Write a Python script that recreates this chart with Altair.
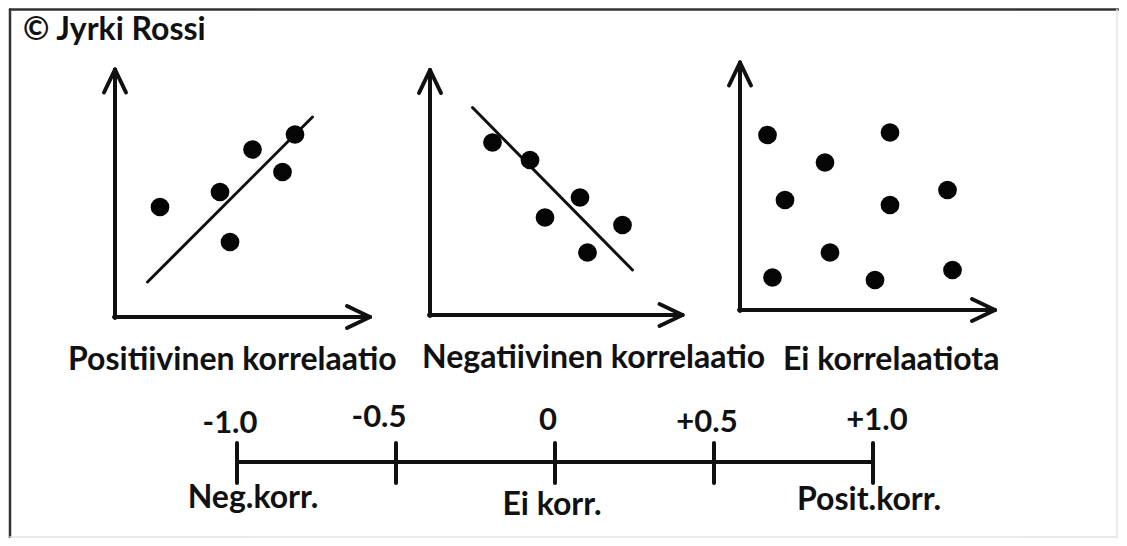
import altair as alt
import pandas as pd

# ---------------- data ----------------
TITLE = "© Jyrki Rossi"
panel_titles = ["Positiivinen korrelaatio", "Negatiivinen korrelaatio", "Ei korrelaatiota"]

# panel-local units (0..10 along each drawn axis)
pos_x = [1.8, 4.2, 4.6, 5.5, 6.7, 7.2]
pos_y = [4.4, 5.0, 3.0, 6.7, 5.8, 7.3]
pos_fit_x = [1.3, 7.9]
pos_fit_y = [1.4, 8.0]

neg_x = [2.5, 4.0, 6.0, 4.6, 7.7, 6.3]
neg_y = [6.9, 6.2, 4.7, 3.9, 3.6, 2.5]
neg_fit_x = [1.7, 8.1]
neg_fit_y = [8.3, 1.8]

none_x = [1.1, 6.0, 3.4, 1.8, 6.0, 8.3, 3.6, 1.3, 5.4, 8.5]
none_y = [7.0, 7.1, 5.9, 4.4, 4.2, 4.8, 2.3, 1.3, 1.2, 1.6]

scale_values = [-1.0, -0.5, 0.0, 0.5, 1.0]
scale_labels = ["-1.0", "-0.5", "0", "+0.5", "+1.0"]
scale_names = ["Neg.korr.", "Ei korr.", "Posit.korr."]
scale_name_values = [-1.0, 0.0, 1.0]

# ---------------- layout ----------------
W, H = 1111, 530
UNIT = 25.0
origins = [(115, 317), (430, 315), (740, 310)]
axis_len = [(10.2, 9.9), (10.1, 9.8), (10.2, 9.9)]
title_pos = [(68, 370), (422, 368), (783, 370)]
ARM_BACK, ARM_HALF = 23, 11
AX_W, FIT_W = 4, 3

NL_LEFT, NL_PX, NL_Y = 237, 318, 462
tick_up, tick_dn = 19, 21
lab_dx = [-7, -17, -7, -7, 4]
lab_base = [433, 427, 430, 432, 430]
name_dx = [16, -3, -4]
name_base = [508, 515, 510]

INK = "#111111"
FONT = "Lato"
FS = 32
FS_NUM = 31

def P(i, lx, ly):
    ox, oy = origins[i]
    return ox + lx * UNIT, oy - ly * UNIT

segs = []
def seg(x, y, x2, y2, w=AX_W, c=INK):
    segs.append(dict(x=x, y=y, x2=x2, y2=y2, w=w, c=c))

# border
seg(10, 9.5, 1118, 9.5, 2.5, "#333333")
seg(10, 9.5, 10, 538, 2.5, "#333333")
seg(1117, 9.5, 1117, 538, 1.5, "#e4e4e4")
seg(10, 537, 1117, 537, 1.5, "#e4e4e4")

for i in range(3):
    ox, oy = origins[i]
    lx, ly = axis_len[i]
    tx, _ = P(i, lx, 0)
    _, ty = P(i, 0, ly)
    seg(ox, oy + 1, ox, ty)
    seg(ox, ty, ox - ARM_HALF, ty + ARM_BACK)
    seg(ox, ty, ox + ARM_HALF, ty + ARM_BACK)
    seg(ox - 1, oy, tx, oy)
    seg(tx, oy, tx - ARM_BACK, oy - ARM_HALF)
    seg(tx, oy, tx - ARM_BACK, oy + ARM_HALF)

for i, (fx, fy) in enumerate([(pos_fit_x, pos_fit_y), (neg_fit_x, neg_fit_y)]):
    a = P(i, fx[0], fy[0]); b = P(i, fx[1], fy[1])
    seg(a[0], a[1], b[0], b[1], FIT_W)

def nl(v):
    return NL_LEFT + (v + 1.0) * NL_PX

seg(nl(-1.0), NL_Y, nl(1.0), NL_Y, AX_W)
for v in scale_values:
    seg(nl(v), NL_Y - tick_up, nl(v), NL_Y + tick_dn, 4)

seg_df = pd.DataFrame(segs)

pts = []
for i, (xs_, ys_) in enumerate([(pos_x, pos_y), (neg_x, neg_y), (none_x, none_y)]):
    for a, b in zip(xs_, ys_):
        px, py = P(i, a, b)
        pts.append(dict(x=px, y=py))
pts_df = pd.DataFrame(pts)

left_txt = [dict(x=23, y=40, t=TITLE)]
for (x, y), t in zip(title_pos, panel_titles):
    left_txt.append(dict(x=x, y=y, t=t))
left_df = pd.DataFrame(left_txt)

num_txt = []
for v, t, dx, yb in zip(scale_values, scale_labels, lab_dx, lab_base):
    num_txt.append(dict(x=nl(v) + dx, y=yb, t=t))
num_df = pd.DataFrame(num_txt)

name_txt = []
for v, t, dx, yb in zip(scale_name_values, scale_names, name_dx, name_base):
    name_txt.append(dict(x=nl(v) + dx, y=yb, t=t))
name_df = pd.DataFrame(name_txt)

xs = alt.Scale(domain=[8, 8 + W], nice=False, zero=False)
ys = alt.Scale(domain=[8, 8 + H], nice=False, zero=False, reverse=True)
X = alt.X("x:Q", scale=xs, axis=None)
Y = alt.Y("y:Q", scale=ys, axis=None)

rules = alt.Chart(seg_df).mark_rule(strokeCap="round").encode(
    x=X, y=Y, x2="x2:Q", y2="y2:Q",
    strokeWidth=alt.StrokeWidth("w:Q", scale=None),
    color=alt.Color("c:N", scale=None),
)
dots = alt.Chart(pts_df).mark_circle(size=350, opacity=1, color="#050505").encode(x=X, y=Y)
t_left = alt.Chart(left_df).mark_text(
    align="left", baseline="alphabetic", font=FONT, fontSize=FS, fontWeight="bold", color=INK
).encode(x=X, y=Y, text="t:N")
t_num = alt.Chart(num_df).mark_text(
    align="center", baseline="alphabetic", font=FONT, fontSize=FS_NUM, fontWeight="bold", color=INK
).encode(x=X, y=Y, text="t:N")
t_name = alt.Chart(name_df).mark_text(
    align="center", baseline="alphabetic", font=FONT, fontSize=FS, fontWeight="bold", color=INK
).encode(x=X, y=Y, text="t:N")

chart = alt.layer(rules, dots, t_left, t_num, t_name).properties(
    width=W, height=H, padding=0, autosize=alt.AutoSizeParams(type="none"),
    background="white",
).configure_view(stroke=None)

chart.save("out.html", embed_options={"renderer": "svg", "actions": False})
